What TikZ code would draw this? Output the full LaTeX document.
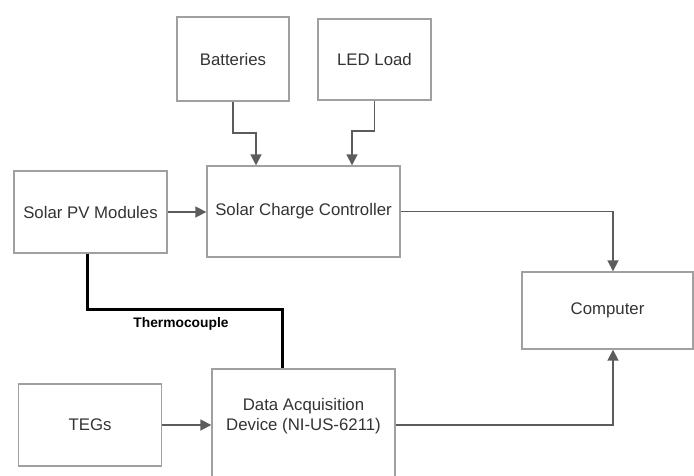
\documentclass[tikz,border=0pt]{standalone}
\usepackage{fontspec}
\setmainfont{Liberation Sans}
\usetikzlibrary{arrows.meta}
\definecolor{boxgray}{HTML}{A0A0A0}
\definecolor{linegray}{HTML}{5C5C5C}
\definecolor{txt}{HTML}{333333}
\begin{document}
\begin{tikzpicture}[x=1pt,y=-1pt,
  box/.style={draw=boxgray, line width=1.4pt, inner sep=0pt, font=\fontsize{16.8}{20}\selectfont, text=txt, align=center},
  boxtext/.style={font=\fontsize{16.8}{20}\selectfont, text=txt, align=center, inner sep=0pt},
  conn/.style={draw=linegray, line width=1.8pt, -{Triangle[length=11pt,width=11pt]}},
  thermo/.style={draw=black, line width=3pt},
  thermolabel/.style={font=\bfseries\fontsize{13.8}{16}\selectfont, text=black, inner sep=0pt}]
\useasboundingbox (0,0) rectangle (694,475);
\node[box, minimum width=112, minimum height=84] (bat) at (233,59) {Batteries};
\node[box, minimum width=113, minimum height=81] (led) at (374.5,59.5) {LED Load};
\node[box, minimum width=153, minimum height=82] (pv) at (90.5,212) {Solar PV Modules};
\node[box, minimum width=193, minimum height=91] (scc) at (303.5,211.5) {Solar Charge Controller};
\node[box, minimum width=171, minimum height=77] (comp) at (607.5,310.5) {Computer};
\node[box, minimum width=143, minimum height=82] (tegs) at (90,425) {TEGs};
\node[box, minimum width=183, minimum height=112] (daq) at (303.5,425) {};
\node[boxtext] (daqtext) at (303.5,416) {Data Acquisition\\Device (NI-US-6211)};
\node[thermolabel] (tlabel) at (181,324) {Thermocouple};

\draw[conn] (bat.south) -- ++(0,31) -| ([xshift=-47.5pt]scc.north);
\draw[conn] (led.south) -- ++(0,30) -| ([xshift=48.5pt]scc.north);
\draw[conn] (pv.east) -- (pv.east -| scc.west);
\draw[conn] (scc.east) -| ([xshift=5.5pt]comp.north);
\draw[conn] (tegs.east) -- (tegs.east -| daq.west);
\draw[conn] (daq.east) -| ([xshift=5.5pt]comp.south);
\draw[thermo] ([xshift=-3.5pt]pv.south) -- ++(0,56) -| ([xshift=-21.5pt]daq.north);
\end{tikzpicture}
\end{document}
